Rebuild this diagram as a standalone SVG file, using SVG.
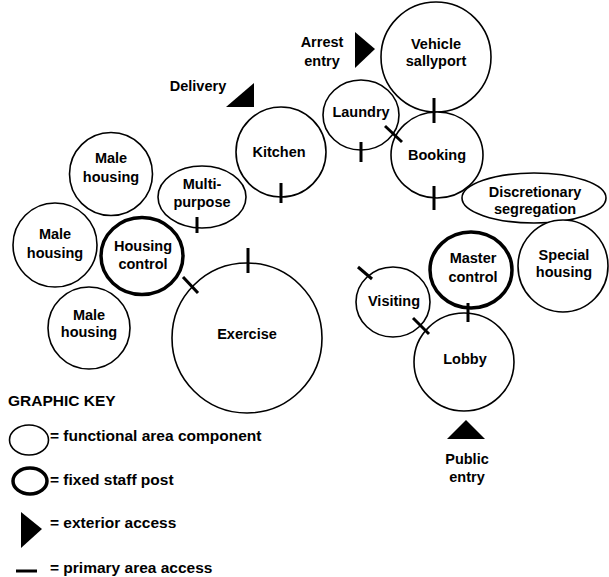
<svg xmlns="http://www.w3.org/2000/svg" width="609" height="577" viewBox="0 0 609 577">
<style>
.a{fill:#fff;stroke:#000;stroke-width:1.6}
.s{fill:#fff;stroke:#000;stroke-width:3.5}
.t{font-family:"Liberation Sans",Arial,sans-serif;font-weight:bold;font-size:14.5px;fill:#000;text-anchor:middle}
.k{font-family:"Liberation Sans",Arial,sans-serif;font-weight:bold;font-size:15.5px;fill:#000}
.x{stroke:#000;stroke-width:3;fill:none}
.e{fill:#000}
</style>
<rect width="609" height="577" fill="#fff"/>
<g id="exercise"><circle class="a" cx="247" cy="338" r="75"/><text class="t" x="247" y="339">Exercise</text></g>
<g id="sallyport"><circle class="a" cx="436" cy="57" r="55"/><text class="t" x="436" y="49">Vehicle</text><text class="t" x="436" y="66">sallyport</text></g>
<g id="booking"><ellipse class="a" cx="437" cy="155" rx="46" ry="43"/><text class="t" x="437" y="160">Booking</text></g>
<g id="laundry"><ellipse class="a" cx="361" cy="115" rx="38" ry="35"/><text class="t" x="361" y="117">Laundry</text></g>
<g id="kitchen"><circle class="a" cx="281" cy="152" r="45"/><text class="t" x="279" y="157">Kitchen</text></g>
<g id="multipurpose"><ellipse class="a" cx="202" cy="197" rx="44" ry="31"/><text class="t" x="202" y="189">Multi-</text><text class="t" x="202" y="207">purpose</text></g>
<g id="male1"><circle class="a" cx="111" cy="174" r="41.5"/><text class="t" x="111" y="163">Male</text><text class="t" x="111" y="182">housing</text></g>
<g id="male2"><circle class="a" cx="55" cy="245" r="42"/><text class="t" x="55" y="239">Male</text><text class="t" x="55" y="258">housing</text></g>
<g id="housingcontrol"><ellipse class="s" cx="142" cy="256" rx="41" ry="38.5"/><text class="t" x="143" y="251">Housing</text><text class="t" x="143" y="269">control</text></g>
<g id="male3"><circle class="a" cx="89" cy="328" r="41"/><text class="t" x="89" y="320">Male</text><text class="t" x="89" y="337">housing</text></g>
<g id="discretionary"><ellipse class="a" cx="534" cy="198" rx="72" ry="25"/><text class="t" x="535" y="197">Discretionary</text><text class="t" x="535" y="214">segregation</text></g>
<g id="special"><ellipse class="a" cx="563" cy="266" rx="45" ry="46"/><text class="t" x="564" y="260">Special</text><text class="t" x="564" y="277">housing</text></g>
<g id="lobby"><ellipse class="a" cx="464" cy="362" rx="50" ry="49"/><text class="t" x="465" y="364">Lobby</text></g>
<g id="visiting"><ellipse class="a" cx="393" cy="302" rx="37" ry="35"/><text class="t" x="394" y="306">Visiting</text></g>
<g id="mastercontrol"><ellipse class="s" cx="471" cy="270" rx="41" ry="38"/><text class="t" x="473" y="263">Master</text><text class="t" x="473" y="282">control</text></g>
<g id="arrest"><polygon class="e" points="355,32 375,49 355,68"/><text class="t" x="322" y="47">Arrest</text><text class="t" x="322" y="66">entry</text></g>
<g id="delivery"><polygon class="e" points="254,83 254,107 226,107"/><text class="t" x="198" y="91">Delivery</text></g>
<g id="public"><polygon class="e" points="447,439 466,420 485,439"/><text class="t" x="467" y="464">Public</text><text class="t" x="467" y="482">entry</text></g>
<g id="connectors">
<line class="x" x1="434" y1="98" x2="434" y2="123"/>
<line class="x" x1="385" y1="126" x2="402" y2="142"/>
<line class="x" x1="361" y1="142" x2="361" y2="162"/>
<line class="x" x1="434" y1="186" x2="434" y2="210"/>
<line class="x" x1="281" y1="183" x2="281" y2="203"/>
<line class="x" x1="197" y1="217" x2="197" y2="233"/>
<line class="x" x1="248" y1="248" x2="248" y2="273"/>
<line class="x" x1="183" y1="277" x2="198" y2="293"/>
<line class="x" x1="358" y1="267" x2="372" y2="279"/>
<line class="x" x1="413" y1="318" x2="429" y2="334"/>
<line class="x" x1="468" y1="303" x2="468" y2="322"/>
</g>
<g id="key">
<text class="k" x="8" y="406">GRAPHIC KEY</text>
<ellipse class="a" cx="29" cy="440" rx="19.5" ry="15"/>
<text class="k" x="50" y="441">= functional area component</text>
<ellipse class="s" cx="30" cy="481" rx="17" ry="13"/>
<text class="k" x="50" y="485">= fixed staff post</text>
<polygon class="e" points="21,512 42,529 21,548"/>
<text class="k" x="50" y="528">= exterior access</text>
<line class="x" x1="16" y1="571" x2="37" y2="571"/>
<text class="k" x="50" y="573">= primary area access</text>
</g>
</svg>
